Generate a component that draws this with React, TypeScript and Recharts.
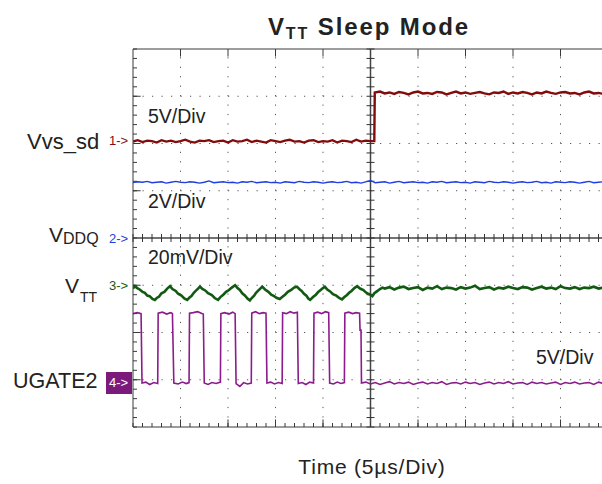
import React from 'react';
import { LineChart, Line, XAxis, YAxis, ReferenceLine } from 'recharts';

// x = time in screen divisions (5 µs/div), y = screen divisions from the bottom (0..8)
const CH1_VVS_SD: [number, number][] = [
  [0, 6.04], [0.1, 6.07], [0.2, 6.03], [0.3, 6.06], [0.4, 6.05], [0.5, 6.02], [0.6, 6.07], [0.7, 6.04], [0.8, 6.06], [0.9, 6.03],
  [1.0, 6.05], [1.1, 6.08], [1.2, 6.04], [1.3, 6.02], [1.4, 6.06], [1.5, 6.05], [1.6, 6.07], [1.7, 6.03], [1.8, 6.05], [1.9, 6.06],
  [2.0, 6.02], [2.1, 6.07], [2.2, 6.04], [2.3, 6.05], [2.4, 6.08], [2.5, 6.03], [2.6, 6.06], [2.7, 6.04], [2.8, 6.02], [2.9, 6.07],
  [3.0, 6.05], [3.1, 6.03], [3.2, 6.06], [3.3, 6.08], [3.4, 6.04], [3.5, 6.05], [3.6, 6.02], [3.7, 6.06], [3.8, 6.07], [3.9, 6.03],
  [4.0, 6.05], [4.1, 6.04], [4.2, 6.07], [4.3, 6.02], [4.4, 6.06], [4.5, 6.05], [4.6, 6.03], [4.7, 6.08], [4.8, 6.04], [4.9, 6.06],
  [5.0, 6.05], [5.08, 6.05], [5.09, 7.08],
  [5.2, 7.10], [5.3, 7.06], [5.4, 7.08], [5.5, 7.05], [5.6, 7.09], [5.7, 7.07], [5.8, 7.04], [5.9, 7.08], [6.0, 7.10], [6.1, 7.06],
  [6.2, 7.07], [6.3, 7.05], [6.4, 7.09], [6.5, 7.08], [6.6, 7.04], [6.7, 7.07], [6.8, 7.10], [6.9, 7.06], [7.0, 7.08], [7.1, 7.05],
  [7.2, 7.07], [7.3, 7.09], [7.4, 7.06], [7.5, 7.04], [7.6, 7.08], [7.7, 7.07], [7.8, 7.10], [7.9, 7.05], [8.0, 7.08], [8.1, 7.06],
  [8.2, 7.09], [8.3, 7.07], [8.4, 7.04], [8.5, 7.08], [8.6, 7.06], [8.7, 7.10], [8.8, 7.07], [8.9, 7.05], [9.0, 7.08], [9.1, 7.09],
  [9.2, 7.06], [9.3, 7.07], [9.4, 7.04], [9.5, 7.08], [9.6, 7.10], [9.7, 7.06], [9.8, 7.07], [9.9, 7.05], [10, 7.08],
];

const CH2_VDDQ: [number, number][] = [
  [0, 5.17], [0.1, 5.19], [0.2, 5.18], [0.3, 5.20], [0.4, 5.17], [0.5, 5.18], [0.6, 5.19], [0.7, 5.16], [0.8, 5.18], [0.9, 5.20],
  [1.0, 5.18], [1.1, 5.17], [1.2, 5.19], [1.3, 5.18], [1.4, 5.16], [1.5, 5.18], [1.6, 5.21], [1.7, 5.17], [1.8, 5.18], [1.9, 5.19],
  [2.0, 5.17], [2.1, 5.18], [2.2, 5.16], [2.3, 5.19], [2.4, 5.18], [2.5, 5.20], [2.6, 5.17], [2.7, 5.18], [2.8, 5.19], [2.9, 5.17],
  [3.0, 5.18], [3.1, 5.16], [3.2, 5.19], [3.3, 5.18], [3.4, 5.17], [3.5, 5.20], [3.6, 5.18], [3.7, 5.17], [3.8, 5.19], [3.9, 5.18],
  [4.0, 5.16], [4.1, 5.18], [4.2, 5.19], [4.3, 5.17], [4.4, 5.18], [4.5, 5.20], [4.6, 5.17], [4.7, 5.18], [4.8, 5.16], [4.9, 5.19],
  [5.0, 5.22], [5.1, 5.17], [5.2, 5.18], [5.3, 5.19], [5.4, 5.16], [5.5, 5.18], [5.6, 5.20], [5.7, 5.17], [5.8, 5.18], [5.9, 5.19],
  [6.0, 5.17], [6.1, 5.18], [6.2, 5.16], [6.3, 5.19], [6.4, 5.18], [6.5, 5.20], [6.6, 5.17], [6.7, 5.18], [6.8, 5.19], [6.9, 5.17],
  [7.0, 5.18], [7.1, 5.16], [7.2, 5.19], [7.3, 5.18], [7.4, 5.17], [7.5, 5.20], [7.6, 5.18], [7.7, 5.17], [7.8, 5.19], [7.9, 5.18],
  [8.0, 5.16], [8.1, 5.18], [8.2, 5.19], [8.3, 5.17], [8.4, 5.18], [8.5, 5.20], [8.6, 5.17], [8.7, 5.18], [8.8, 5.16], [8.9, 5.19],
  [9.0, 5.18], [9.1, 5.17], [9.2, 5.19], [9.3, 5.18], [9.4, 5.16], [9.5, 5.18], [9.6, 5.20], [9.7, 5.17], [9.8, 5.18], [9.9, 5.19], [10, 5.18],
];

const CH3_VTT: [number, number][] = [
  [0, 2.93], [0.04, 2.98], [0.09, 2.94], [0.14, 2.91], [0.2, 2.86], [0.25, 2.84], [0.3, 2.78], [0.35, 2.77], [0.41, 2.71], [0.46, 2.69],
  [0.5, 2.73], [0.55, 2.76], [0.6, 2.83], [0.66, 2.86], [0.72, 2.93], [0.78, 2.98], [0.83, 2.92], [0.9, 2.88], [0.95, 2.82], [1.02, 2.78],
  [1.08, 2.72], [1.14, 2.69], [1.19, 2.74], [1.23, 2.77], [1.28, 2.84], [1.32, 2.88], [1.37, 2.93], [1.41, 2.97], [1.46, 2.92], [1.52, 2.89],
  [1.58, 2.83], [1.66, 2.79], [1.72, 2.73], [1.79, 2.69], [1.84, 2.75], [1.9, 2.80], [1.96, 2.86], [2.02, 2.90], [2.08, 2.95], [2.15, 3.00],
  [2.2, 2.94], [2.25, 2.90], [2.3, 2.83], [2.36, 2.78], [2.41, 2.72], [2.46, 2.68], [2.5, 2.73], [2.55, 2.78], [2.59, 2.84], [2.63, 2.88],
  [2.68, 2.93], [2.72, 2.97], [2.78, 2.91], [2.85, 2.86], [2.91, 2.80], [2.97, 2.77], [3.03, 2.73], [3.09, 2.71], [3.14, 2.75], [3.2, 2.80],
  [3.26, 2.86], [3.33, 2.90], [3.39, 2.95], [3.45, 2.97], [3.5, 2.92], [3.55, 2.88], [3.6, 2.82], [3.65, 2.78], [3.69, 2.72], [3.73, 2.69],
  [3.79, 2.75], [3.85, 2.80], [3.9, 2.86], [3.95, 2.90], [4.0, 2.94], [4.04, 2.97], [4.09, 2.91], [4.15, 2.87], [4.21, 2.81], [4.28, 2.78],
  [4.34, 2.73], [4.4, 2.70], [4.45, 2.75], [4.5, 2.79], [4.55, 2.84], [4.6, 2.88], [4.66, 2.94], [4.72, 2.98], [4.78, 2.93], [4.85, 2.90],
  [4.9, 2.85], [4.95, 2.82], [5.0, 2.80], [5.04, 2.77], [5.08, 2.83], [5.12, 2.86], [5.2, 2.92], [5.25, 2.95],
  [5.3, 2.93], [5.4, 2.96], [5.5, 2.91], [5.6, 2.95], [5.7, 2.97], [5.8, 2.92], [5.9, 2.94], [6.0, 2.96], [6.1, 2.90], [6.2, 2.95],
  [6.3, 2.93], [6.4, 2.98], [6.5, 2.92], [6.6, 2.95], [6.7, 2.94], [6.8, 2.91], [6.9, 2.96], [7.0, 2.93], [7.1, 2.95], [7.2, 2.99],
  [7.3, 2.92], [7.4, 2.94], [7.5, 2.96], [7.6, 2.91], [7.7, 2.95], [7.8, 2.93], [7.9, 2.97], [8.0, 2.94], [8.1, 2.92], [8.2, 2.96],
  [8.3, 2.95], [8.4, 2.91], [8.5, 2.94], [8.6, 2.97], [8.7, 2.93], [8.8, 2.95], [8.9, 2.92], [9.0, 2.98], [9.1, 2.94], [9.2, 2.93],
  [9.3, 2.96], [9.4, 2.92], [9.5, 2.95], [9.6, 2.94], [9.7, 2.97], [9.8, 2.93], [9.9, 2.95], [10, 2.94],
];

const CH4_UGATE2: [number, number][] = [
  [0, 2.40], [0.09, 2.42], [0.17, 2.40], [0.19, 0.93], [0.27, 0.95], [0.35, 0.90], [0.44, 0.94], [0.52, 0.92],
  [0.53, 2.41], [0.62, 2.43], [0.71, 2.39], [0.79, 2.42], [0.83, 2.40], [0.86, 0.93], [0.95, 0.91], [1.04, 0.95], [1.12, 0.92], [1.18, 0.94],
  [1.19, 2.41], [1.27, 2.42], [1.36, 2.44], [1.45, 2.40], [1.48, 2.39], [1.5, 0.93], [1.58, 0.90], [1.66, 0.94], [1.75, 0.92], [1.84, 0.95],
  [1.85, 2.40], [1.93, 2.42], [2.02, 2.39], [2.1, 2.43], [2.15, 2.40], [2.17, 0.92], [2.25, 0.86], [2.33, 0.94], [2.41, 0.91], [2.49, 0.93],
  [2.5, 2.41], [2.58, 2.44], [2.66, 2.40], [2.74, 2.42], [2.8, 2.41], [2.82, 0.93], [2.9, 0.95], [2.98, 0.91], [3.06, 0.94], [3.14, 0.92],
  [3.15, 2.42], [3.23, 2.40], [3.31, 2.44], [3.39, 2.41], [3.46, 2.43], [3.48, 0.92], [3.56, 0.94], [3.64, 0.90], [3.72, 0.95], [3.8, 0.93],
  [3.81, 2.41], [3.89, 2.43], [3.97, 2.40], [4.05, 2.44], [4.12, 2.42], [4.14, 0.93], [4.22, 0.91], [4.3, 0.95], [4.38, 0.92], [4.45, 0.94],
  [4.46, 2.41], [4.54, 2.43], [4.62, 2.40], [4.7, 2.42], [4.77, 2.41], [4.78, 2.05], [4.8, 2.05], [4.81, 0.93],
  [4.9, 0.95], [5.0, 0.91], [5.1, 0.94], [5.2, 0.90], [5.3, 0.93], [5.4, 0.96], [5.5, 0.91], [5.6, 0.94], [5.7, 0.92], [5.8, 0.95],
  [5.9, 0.90], [6.0, 0.93], [6.1, 0.95], [6.2, 0.91], [6.3, 0.94], [6.4, 0.92], [6.5, 0.96], [6.6, 0.90], [6.7, 0.93], [6.8, 0.94],
  [6.9, 0.91], [7.0, 0.95], [7.1, 0.92], [7.2, 0.94], [7.3, 0.90], [7.4, 0.93], [7.5, 0.95], [7.6, 0.91], [7.7, 0.94], [7.8, 0.92],
  [7.9, 0.96], [8.0, 0.91], [8.1, 0.93], [8.2, 0.94], [8.3, 0.90], [8.4, 0.95], [8.5, 0.92], [8.6, 0.94], [8.7, 0.91], [8.8, 0.93],
  [8.9, 0.95], [9.0, 0.90], [9.1, 0.94], [9.2, 0.92], [9.3, 0.95], [9.4, 0.91], [9.5, 0.93], [9.6, 0.94], [9.7, 0.90], [9.8, 0.95],
  [9.9, 0.92], [10, 0.93],
];

const MAJOR_X = [1, 2, 3, 4, 6, 7, 8, 9];
const MAJOR_Y = [1, 2, 3, 5, 6, 7];
const MINOR_X = Array.from({ length: 51 }, (_, i) => i / 5);
const MINOR_Y = Array.from({ length: 41 }, (_, i) => i / 5);

const toRows = (pts: [number, number][]) => pts.map(([t, v]) => ({ t, v }));

const FONT = '"Liberation Sans", Arial, Helvetica, sans-serif';
const FRAME = '#3a3a3a';
const DOTS = '#555';
const noLabel = () => <g />;

export default function App() {
  return (
    <div style={{ position: 'fixed', left: 0, top: 0, width: 602, height: 484, overflow: 'hidden', background: '#fff' }}>
      <LineChart width={620} height={484} margin={{ top: 49, right: 12, bottom: 57, left: 133 }}>
        <XAxis dataKey="t" type="number" domain={[0, 10]} ticks={MINOR_X} interval={0} orientation="bottom" mirror
          tick={noLabel} tickSize={4} stroke={FRAME} tickLine={{ stroke: FRAME }} allowDataOverflow />
        <XAxis xAxisId="top" dataKey="t" type="number" domain={[0, 10]} ticks={MINOR_X} interval={0} orientation="top" mirror
          tick={noLabel} tickSize={4} stroke={FRAME} tickLine={{ stroke: FRAME }} />
        <YAxis type="number" domain={[0, 8]} ticks={MINOR_Y} interval={0} mirror tick={noLabel} tickSize={4} stroke={FRAME}
          tickLine={{ stroke: FRAME }} allowDataOverflow />

        {MAJOR_X.map((x) => (
          <ReferenceLine key={`gx${x}`} x={x} stroke={DOTS} strokeDasharray="1.2 8.25" />
        ))}
        {MAJOR_Y.map((y) => (
          <ReferenceLine key={`gy${y}`} y={y} stroke={DOTS} strokeDasharray="1.2 8.3" />
        ))}
        {MAJOR_X.map((x) => (
          <ReferenceLine key={`tt${x}`} segment={[{ x, y: 8 }, { x, y: 7.84 }]} stroke={FRAME} />
        ))}
        {MAJOR_X.map((x) => (
          <ReferenceLine key={`tb${x}`} segment={[{ x, y: 0 }, { x, y: 0.16 }]} stroke={FRAME} />
        ))}
        {MAJOR_Y.map((y) => (
          <ReferenceLine key={`tl${y}`} segment={[{ x: 0, y }, { x: 0.16, y }]} stroke={FRAME} />
        ))}
        <ReferenceLine x={5} stroke="#444" strokeWidth={1.5} />
        <ReferenceLine y={4} stroke="#444" strokeWidth={1.5} />
        {MINOR_X.map((x) => (
          <ReferenceLine key={`cx${x}`} segment={[{ x, y: 3.915 }, { x, y: 4.085 }]} stroke="#333" />
        ))}
        {MINOR_Y.map((y) => (
          <ReferenceLine key={`cy${y}`} segment={[{ x: 4.916, y }, { x: 5.084, y }]} stroke="#333" />
        ))}

        <Line data={toRows(CH2_VDDQ)} dataKey="v" type="linear" stroke="#1f3de0" strokeWidth={1.3} dot={false} isAnimationActive={false} />
        <Line data={toRows(CH1_VVS_SD)} dataKey="v" type="linear" stroke="#820c0c" strokeWidth={2.4} dot={false} isAnimationActive={false} />
        <Line data={toRows(CH3_VTT)} dataKey="v" type="linear" stroke="#125a12" strokeWidth={2.6} dot={false} isAnimationActive={false} />
        <Line data={toRows(CH4_UGATE2)} dataKey="v" type="linear" stroke="#8b1c8b" strokeWidth={1.6} dot={false} isAnimationActive={false} />
      </LineChart>

      <svg width={602} height={484} style={{ position: 'absolute', left: 0, top: 0, pointerEvents: 'none' }}
        fontFamily={FONT}>
        <text x={369} y={35} textAnchor="middle" fontSize={24} fontWeight="bold" fill="#222" letterSpacing={1.9}>
          V<tspan fontSize={16} dy={4}>TT</tspan><tspan dy={-4}> Sleep Mode</tspan>
        </text>

        <text x={27} y={149} fontSize={22} fill="#222">Vvs_sd</text>
        <text x={109} y={145} fontSize={13} fill="#820c0c">1-&gt;</text>

        <text x={49} y={242} fontSize={21} fill="#222">V<tspan fontSize={16} dy={2}>DDQ</tspan></text>
        <text x={109} y={243} fontSize={13} fill="#1f3de0">2-&gt;</text>

        <text x={65} y={293} fontSize={21} fill="#222">V</text>
        <text x={80} y={302} fontSize={14} fill="#222">TT</text>
        <text x={109} y={290} fontSize={13} fill="#125a12">3-&gt;</text>

        <text x={13} y={388} fontSize={21.5} fill="#222">UGATE2</text>
        <rect x={106} y={372} width={26} height={22} fill="#7c1a7c" />
        <text x={109} y={387} fontSize={13} fill="#fff">4-&gt;</text>

        <text x={148} y={123} fontSize={19.5} fill="#222">5V/Div</text>
        <text x={148} y={208} fontSize={19.5} fill="#222">2V/Div</text>
        <text x={148} y={264} fontSize={19.5} fill="#222">20mV/Div</text>
        <text x={536} y={364} fontSize={19.5} fill="#222">5V/Div</text>

        <text x={372} y={474} textAnchor="middle" fontSize={21} fill="#222" letterSpacing={0.8}>Time  (5µs/Div)</text>
      </svg>
    </div>
  );
}
